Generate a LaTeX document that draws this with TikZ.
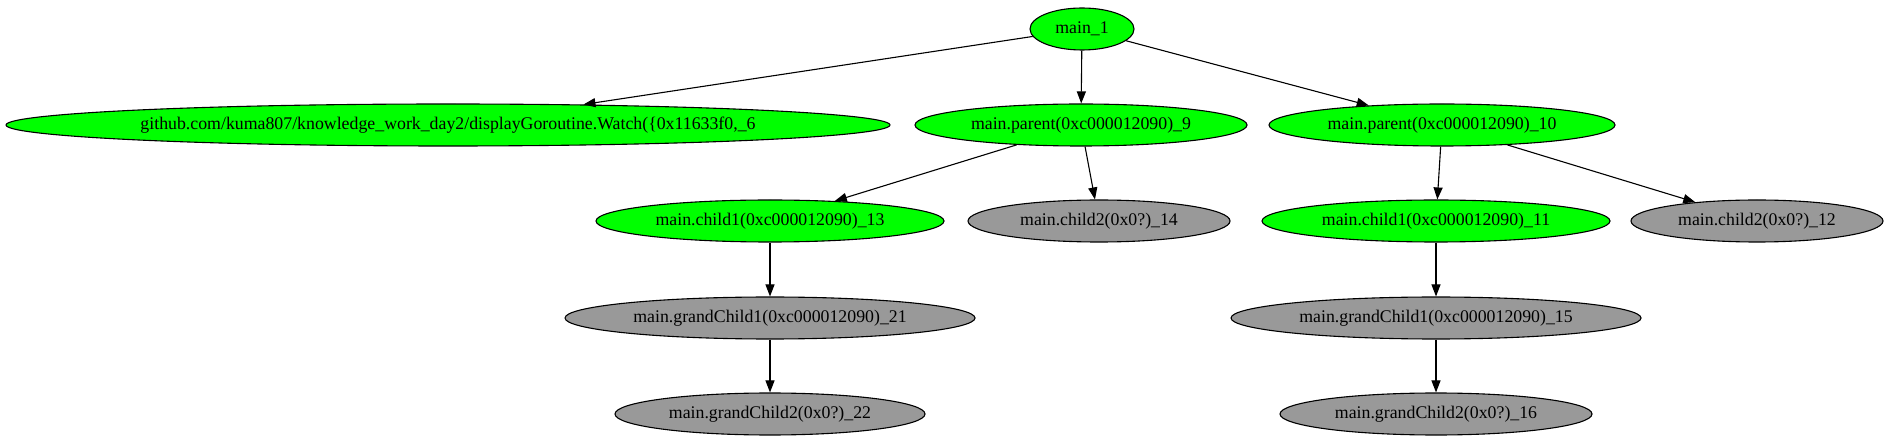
\documentclass[tikz,border=0pt]{standalone}
\usepackage{fontspec}
\setmainfont{Liberation Serif}
\usetikzlibrary{shapes.geometric,arrows.meta}
\definecolor{gvgreen}{HTML}{00FF00}
\definecolor{gvgray}{HTML}{999999}
\tikzset{
  gnode/.style={ellipse,draw=black,line width=1.1pt,inner sep=0pt,minimum height=42pt,font=\fontsize{17.8}{21}\selectfont},
  greennode/.style={gnode,fill=gvgreen},
  graynode/.style={gnode,fill=gvgray},
  edge/.style={draw=black,line width=1.1pt,-{Triangle[length=12pt,width=9pt]}}
}
\begin{document}
\begin{tikzpicture}[x=1pt,y=-1pt]
\useasboundingbox (0,0) rectangle (1887,443);
\node[greennode,minimum width=104pt] (m1) at (1082,29) {main\_1};
\node[greennode,minimum width=884pt] (gh) at (448,125) {github.com/kuma807/knowledge\_work\_day2/displayGoroutine.Watch(\{0x11633f0,\_6};
\node[greennode,minimum width=332pt] (p9) at (1081,125) {main.parent(0xc000012090)\_9};
\node[greennode,minimum width=346pt] (p10) at (1442,125) {main.parent(0xc000012090)\_10};
\node[greennode,minimum width=348pt] (c13) at (770,221) {main.child1(0xc000012090)\_13};
\node[graynode,minimum width=262pt] (c14) at (1099,221) {main.child2(0x0?)\_14};
\node[greennode,minimum width=348pt] (c11) at (1436,221) {main.child1(0xc000012090)\_11};
\node[graynode,minimum width=252pt] (c12) at (1757,221) {main.child2(0x0?)\_12};
\node[graynode,minimum width=410pt] (g21) at (770,318) {main.grandChild1(0xc000012090)\_21};
\node[graynode,minimum width=410pt] (g15) at (1436,318) {main.grandChild1(0xc000012090)\_15};
\node[graynode,minimum width=310pt] (h22) at (770,414) {main.grandChild2(0x0?)\_22};
\node[graynode,minimum width=312pt] (h16) at (1436,414) {main.grandChild2(0x0?)\_16};
\draw[edge] (m1) -- (gh);
\draw[edge] (m1) -- (p9);
\draw[edge] (m1) -- (p10);
\draw[edge] (p9) -- (c13);
\draw[edge] (p9) -- (c14);
\draw[edge] (p10) -- (c11);
\draw[edge] (p10) -- (c12);
\draw[edge] (c13) -- (g21);
\draw[edge] (g21) -- (h22);
\draw[edge] (c11) -- (g15);
\draw[edge] (g15) -- (h16);
\end{tikzpicture}
\end{document}
